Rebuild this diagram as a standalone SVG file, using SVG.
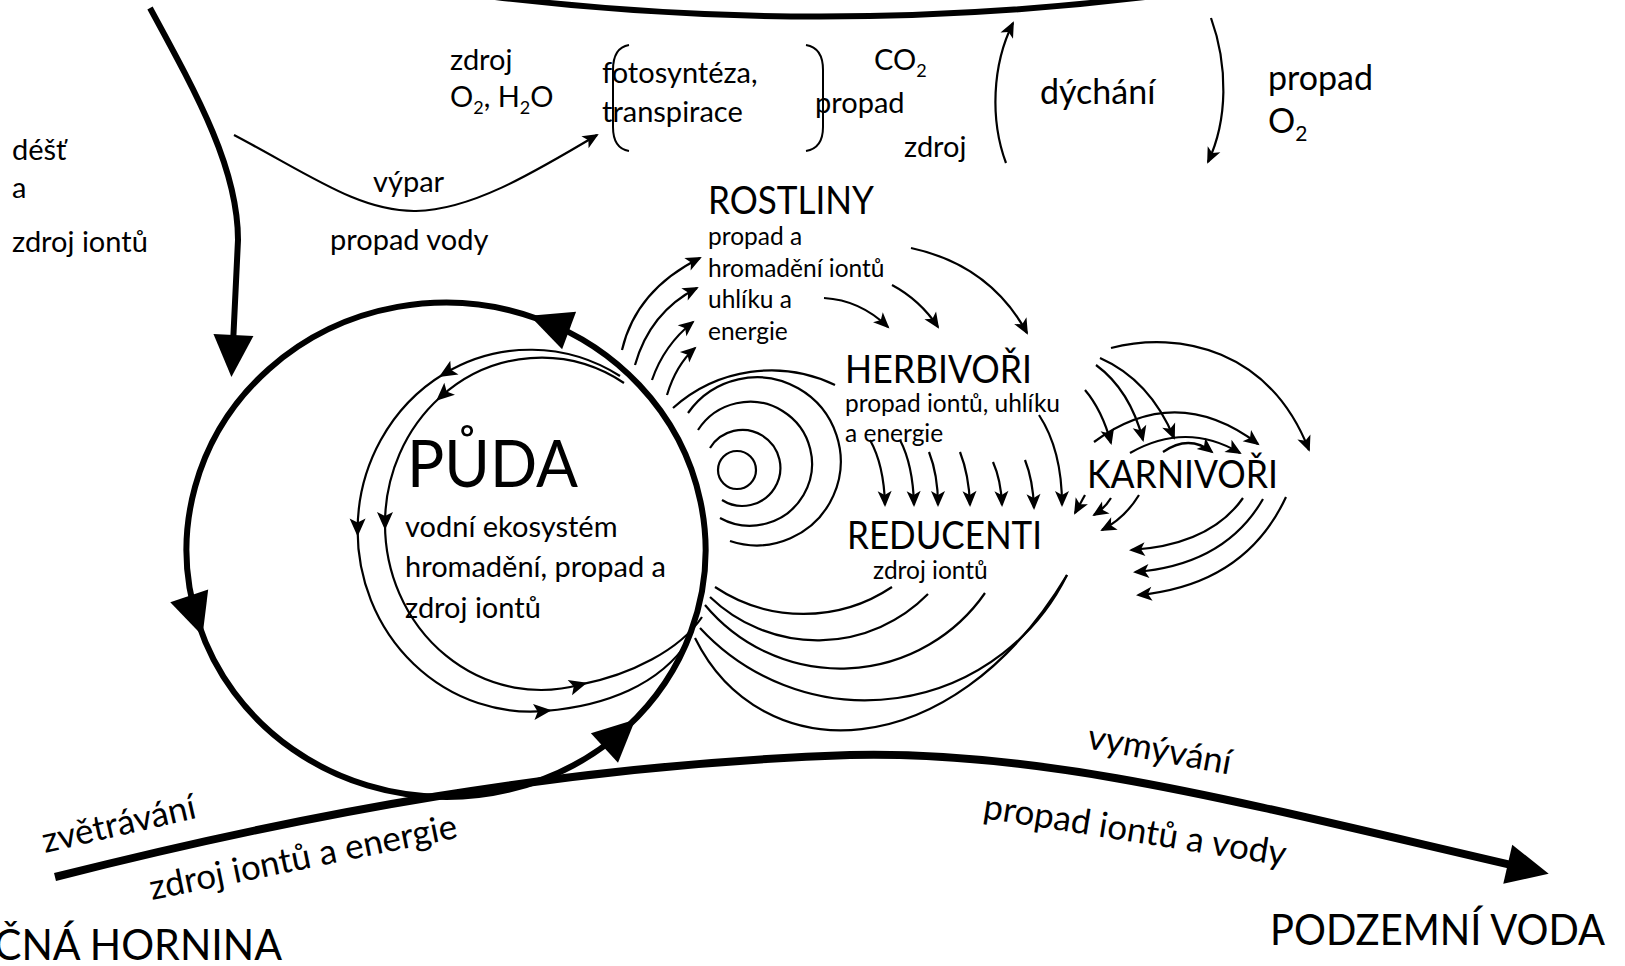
<svg xmlns="http://www.w3.org/2000/svg" width="1625" height="966" viewBox="0 0 1625 966">
<defs>
<style>
.t{font-family:Lato,"Liberation Sans",sans-serif;fill:#000}
.big{font-size:39px}
.mid{font-size:29px}
.lg{font-size:34px}
.sm{font-size:24.5px}
.rot{font-size:35px}
.thk{fill:none;stroke:#000;stroke-width:6}
.thin{fill:none;stroke:#000;stroke-width:2.2}
.a{marker-end:url(#ah)}
.a2{marker-end:url(#ah2)}
.b{marker-end:url(#big)}
</style>
<marker id="big" markerUnits="userSpaceOnUse" markerWidth="42" markerHeight="40" refX="30" refY="20" orient="auto" overflow="visible"><path d="M0,0 L42,20 L0,40 z"/></marker>
<marker id="ah" markerUnits="userSpaceOnUse" markerWidth="16" markerHeight="14" refX="14" refY="7" orient="auto" overflow="visible"><path d="M0,0 L16,7 L0,14 L4,7 z"/></marker>
<marker id="ah2" markerUnits="userSpaceOnUse" markerWidth="18" markerHeight="16" refX="12" refY="8" orient="auto" overflow="visible"><path d="M0,0 L18,8 L0,16 L4,8 z"/></marker>
</defs>
<rect width="1625" height="966" fill="#fff"/>

<g id="connectors">
<path class="thk" d="M495,-3 Q820,36 1145,-3"/>
<path class="thk b" d="M150,8 C200,100 238,170 238,240 L232,365"/>
<path class="thk b" style="stroke-width:8" d="M55,877 C300,815 560,765 850,755 C1050,750 1250,805 1537,871"/>
<path class="thk b" d="M446,797 A259,247 0 0 0 626.5,727.6"/>
<path class="thk b" d="M626.5,727.6 A259,247 0 0 0 541,320"/>
<path class="thk b" d="M541,320 A259,247 0 0 0 198.7,624.3"/>
<path class="thk" d="M198.7,624.3 A259,247 0 0 0 446,797"/>

<path class="thin a2" d="M620,376 A173,181 0 0 0 444.1,373.8"/>
<path class="thin a2" d="M444.1,373.8 A173,181 0 0 0 357.6,530.6"/>
<path class="thin a2" d="M357.6,530.6 A173,181 0 0 0 545.7,710.9"/>
<path class="thin" d="M545.7,710.9 C605,706 660,685 689,640"/>
<path class="thin a2" d="M624,383 A156,166 0 0 0 440.7,396.8"/>
<path class="thin a2" d="M440.7,396.8 A156,166 0 0 0 385,524"/>
<path class="thin a2" d="M385,524 A156,166 0 0 0 581.4,684.3"/>
<path class="thin" d="M581.4,684.3 C630,675 680,650 702,617"/>

<circle class="thin" cx="737" cy="470" r="19"/>
<path class="thin" d="M710,448 A38,38 0 1 1 722,500"/>
<path class="thin" d="M698,430 A62,62 0 1 1 720,518"/>
<path class="thin" d="M688,413 A84,84 0 1 1 730,541"/>
<path class="thin" d="M673,408 A147,147 0 0 1 835,385"/>

<path class="thin" d="M715,587 A159,159 0 0 0 892,587"/>
<path class="thin" d="M710,597 A155,155 0 0 0 928,594"/>
<path class="thin" d="M705,605 A176,176 0 0 0 985,593"/>
<path class="thin" d="M700,628 A225,225 0 0 0 1067,575"/>
<path class="thin" d="M695,638 C760,770 950,770 1067,575"/>

<path class="thin a" d="M622,350 Q636,290 700,258"/>
<path class="thin a" d="M635,365 Q650,312 697,288"/>
<path class="thin a" d="M652,380 Q664,345 693,322"/>
<path class="thin a" d="M667,395 Q676,365 695,348"/>

<path class="thin a" d="M824,298 Q860,300 888,327"/>
<path class="thin a" d="M892,285 Q920,300 938,327"/>
<path class="thin a" d="M911,248 Q990,265 1027,333"/>

<path class="thin a" d="M870,440 Q884,465 885,505"/>
<path class="thin a" d="M900,440 Q913,465 914,505"/>
<path class="thin a" d="M929,452 Q938,475 938,505"/>
<path class="thin a" d="M960,452 Q969,475 970,505"/>
<path class="thin a" d="M993,462 Q1001,480 1002,505"/>
<path class="thin a" d="M1025,460 Q1033,480 1034,508"/>
<path class="thin a" d="M1039,415 Q1062,450 1062,505"/>

<path class="thin a" d="M1085,495 L1075,513"/>
<path class="thin a" d="M1111,498 Q1105,508 1094,515"/>
<path class="thin a" d="M1139,495 Q1125,518 1102,530"/>

<path class="thin a" d="M1085,390 Q1102,410 1111,443"/>
<path class="thin a" d="M1096,365 Q1130,390 1143,440"/>
<path class="thin a" d="M1100,358 Q1150,380 1174,438"/>
<path class="thin a" d="M1111,348 C1180,330 1270,350 1309,450"/>

<path class="thin a" d="M1094,442 Q1176,382 1258,444"/>
<path class="thin a" d="M1130,453 Q1186,421 1240,453"/>
<path class="thin a" d="M1163,452 Q1189,434 1212,452"/>

<path class="thin a" d="M1243,498 Q1210,545 1131,550"/>
<path class="thin a" d="M1263,499 Q1225,565 1135,572"/>
<path class="thin a" d="M1286,497 Q1245,585 1138,595"/>

<path class="thin a" d="M234,135 C310,175 360,212 416,211 C470,210 530,175 597,135"/>
<path class="thin a" d="M1006,163 C990,120 992,65 1013,23"/>
<path class="thin a" d="M1211,18 C1228,65 1228,120 1208,162"/>

<path class="thin" style="stroke-width:2" d="M629,45 C617,47 613,57 613,70 L613,127 C613,140 617,149 629,151"/>
<path class="thin" style="stroke-width:2" d="M806,45 C818,47 823,57 823,70 L823,127 C823,140 818,149 806,151"/>
</g>

<g id="dest">
<text class="t mid" x="12" y="160">déšť</text>
<text class="t mid" x="12" y="198">a</text>
<text class="t mid" x="12" y="252">zdroj iontů</text>
</g>

<g id="atmosfera">
<text class="t mid" x="450" y="70">zdroj</text>
<text class="t mid" x="450" y="107">O<tspan font-size="18" dy="7">2</tspan><tspan dy="-7">, H</tspan><tspan font-size="18" dy="7">2</tspan><tspan dy="-7">O</tspan></text>
<text class="t mid" x="602" y="83">fotosyntéza,</text>
<text class="t mid" x="602" y="122">transpirace</text>
<text class="t mid" x="874" y="70">CO<tspan font-size="18" dy="7">2</tspan></text>
<text class="t mid" x="815" y="113">propad</text>
<text class="t mid" x="904" y="157">zdroj</text>
<text class="t lg" x="1040" y="104">dýchání</text>
<text class="t lg" x="1268" y="90">propad</text>
<text class="t lg" x="1268" y="133">O<tspan font-size="21" dy="8">2</tspan></text>
</g>

<g id="vypar-labels">
<text class="t mid" x="373" y="192">výpar</text>
<text class="t mid" x="330" y="250">propad vody</text>
</g>

<g id="rostliny">
<text class="t big" x="708" y="214" textLength="166" lengthAdjust="spacingAndGlyphs">ROSTLINY</text>
<text class="t sm" x="708" y="245">propad a</text>
<text class="t sm" x="708" y="277">hromadění iontů</text>
<text class="t sm" x="708" y="308">uhlíku a</text>
<text class="t sm" x="708" y="340">energie</text>
</g>

<g id="herbivori">
<text class="t big" x="845" y="383" textLength="187" lengthAdjust="spacingAndGlyphs">HERBIVOŘI</text>
<text class="t sm" x="845" y="412">propad iontů, uhlíku</text>
<text class="t sm" x="845" y="442">a energie</text>
</g>

<g id="karnivori">
<text class="t big" x="1087" y="488" textLength="191" lengthAdjust="spacingAndGlyphs">KARNIVOŘI</text>
</g>

<g id="reducenti">
<text class="t big" x="847" y="549" textLength="195" lengthAdjust="spacingAndGlyphs">REDUCENTI</text>
<text class="t sm" x="873" y="579">zdroj iontů</text>
</g>

<g id="puda">
<text class="t" style="font-size:65px" x="407" y="487" textLength="171" lengthAdjust="spacingAndGlyphs">PŮDA</text>
<text class="t mid" x="405" y="537">vodní ekosystém</text>
<text class="t mid" x="405" y="577">hromadění, propad a</text>
<text class="t mid" x="405" y="618">zdroj iontů</text>
</g>

<g id="hornina">
<text class="t" style="font-size:42px" x="-6" y="960" textLength="288" lengthAdjust="spacingAndGlyphs">ČNÁ HORNINA</text>
<text class="t rot" transform="translate(45,853) rotate(-13)">zvětrávání</text>
<text class="t rot" transform="translate(152,900) rotate(-11.5)">zdroj iontů a energie</text>
</g>

<g id="podzemni-voda">
<text class="t" style="font-size:42px" x="1270" y="945" textLength="335" lengthAdjust="spacingAndGlyphs">PODZEMNÍ VODA</text>
<text class="t rot" transform="translate(1086,748) rotate(10.5)">vymývání</text>
<text class="t rot" transform="translate(982,818) rotate(9)">propad iontů a vody</text>
</g>
</svg>
